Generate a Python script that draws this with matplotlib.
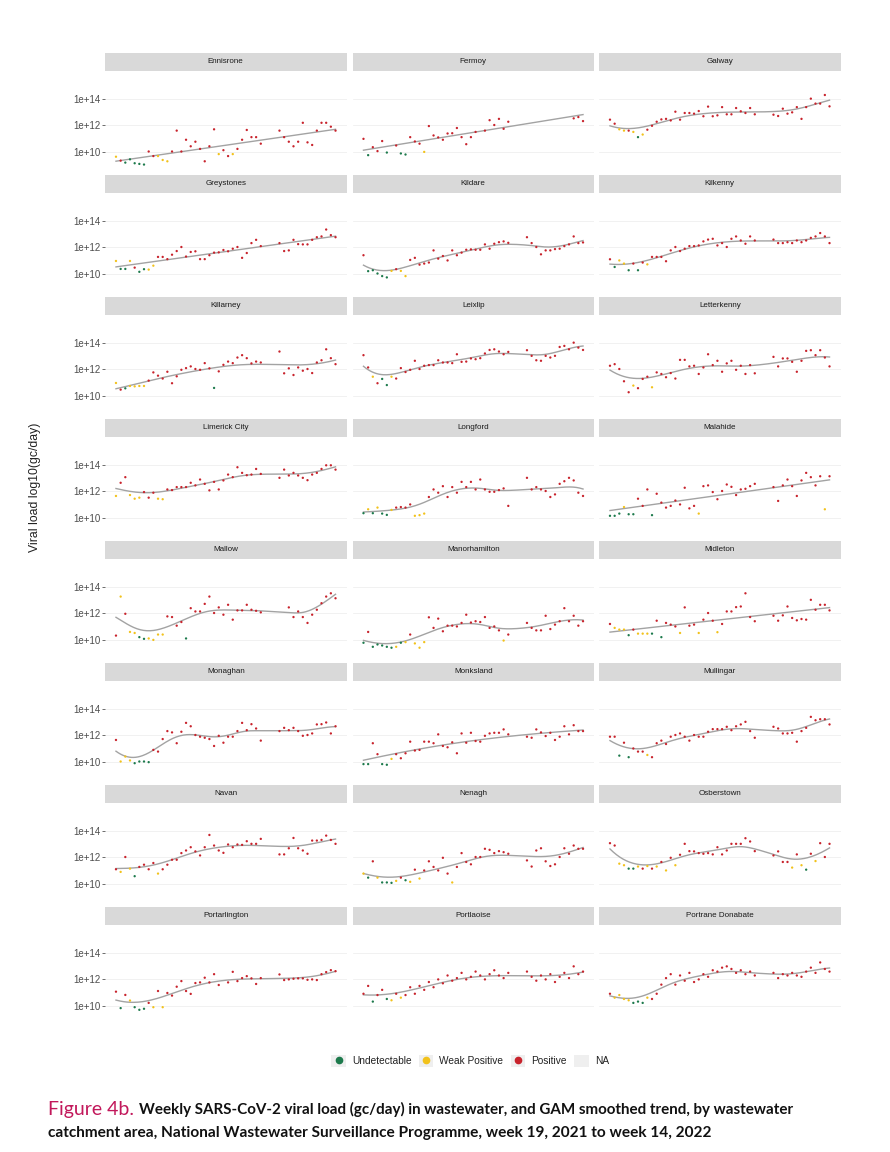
import matplotlib.pyplot as plt
from matplotlib.lines import Line2D
from matplotlib.patches import Patch
import numpy as np

N = None
weeks = list(range(48))  # week 19 2021 .. week 14 2022

sites = ["Ennisrone", "Fermoy", "Galway", "Greystones", "Kildare", "Kilkenny",
         "Killarney", "Leixlip", "Letterkenny", "Limerick City", "Longford", "Malahide",
         "Mallow", "Manorhamilton", "Midleton", "Monaghan", "Monksland", "Mullingar",
         "Navan", "Nenagh", "Osberstown", "Portarlington", "Portlaoise", "Portrane Donabate"]

# log10 viral load per week (None = no sample) and result class per week
# U = undetectable, W = weak positive, P = positive, - = no sample
ennisrone = [9.6, 9.3, 9.15, 9.4, 9.1, 9.05, 9.0, 10.0, 9.65, 9.65, 9.35, 9.25, 10.0, 11.6, 10.0, 10.9,
             10.4, 10.75, 10.2, 9.25, 10.4, 11.7, 9.8, 10.1, 9.65, 9.8, 10.2, 10.9, 11.65, 11.1, 11.1, 10.6,
             N, N, N, 11.6, 11.1, 10.75, 10.4, 10.75, 12.2, 10.7, 10.5, 11.6, 12.2, 12.2, 11.9, 11.6]
ennisrone_cls = "WPUUUUUPPWWW" + "P" * 10 + "WPPW" + "P" * 6 + "---" + "P" * 13

fermoy = [10.97, 9.72, 10.33, 10.03, 10.8, 9.92, N, 10.46, 9.85, 9.77, 11.1, 10.77, 10.6, 9.97, 11.95, 11.23,
          11.08, 10.9, 11.38, 11.4, 11.8, 11.1, 10.56, 11.1, 11.5, N, 11.6, 12.4, 12.03, 12.5, 11.74, 12.28,
          N, N, N, N, N, N, N, N, N, N, N, N, N, 12.54, 12.64, 12.33]
fermoy_cls = "PUPPPU-PUUPPPW" + "P" * 11 + "-" + "P" * 6 + "-" * 13 + "PPP"

galway = [12.44, 12.13, 11.7, 11.6, 11.6, 11.5, 11.1, 11.3, 11.67, 11.97, 12.28, 12.46, 12.5, 12.38, 13.05, 12.44,
          12.95, 12.95, 12.9, 13.1, 12.7, 13.44, 12.7, 12.77, 13.4, 12.85, 12.85, 13.33, 13.08, 12.95, 13.33, 12.85,
          N, N, N, 12.82, 12.72, 13.28, 12.9, 13.0, 13.4, 12.5, 13.4, 14.05, 13.67, 13.67, 14.33, 13.46]
galway_cls = "PPWWPWUW" + "P" * 24 + "---" + "P" * 13

greystones = [10.96, 10.35, 10.35, 10.96, 10.45, 10.13, 10.33, 10.3, 10.6, 11.27, 11.27, 11.1, 11.44, 11.72, 12.03, 11.3,
              11.65, 11.7, 11.1, 11.1, 11.4, 11.6, 11.62, 11.8, 11.7, 11.9, 12.03, 11.2, 11.57, 12.33, 12.58, 12.1,
              N, N, N, 12.33, 11.72, 11.77, 12.58, 12.25, 12.23, 12.23, 12.58, 12.78, 12.84, 13.37, 12.94, 12.78]
greystones_cls = "WUUWPUUWW" + "P" * 23 + "---" + "P" * 13

kildare = [11.4, 10.18, 10.25, 10.0, 9.8, 9.7, 10.2, 10.33, 10.2, 9.8, 11.04, 11.2, 10.68, 10.76, 10.84, 11.77,
           11.14, 11.34, 11.0, 11.77, 11.4, 11.6, 11.82, 11.85, 11.82, 11.82, 12.23, 11.9, 12.28, 12.4, 12.46, 12.35,
           N, N, N, 12.78, 12.33, 12.03, 11.47, 11.77, 11.77, 11.87, 11.9, 12.1, 12.23, 12.84, 12.33, 12.38]
kildare_cls = "PUUUUUWPWW" + "P" * 22 + "---" + "P" * 13

kilkenny = [11.09, 10.5, 11.0, 10.76, 10.25, 10.76, 10.25, 10.84, 10.7, 11.27, 11.27, 11.27, 10.94, 11.77, 12.03, 11.72,
            11.9, 12.1, 12.1, 12.15, 12.46, 12.6, 12.66, 12.15, 12.33, 12.03, 12.66, 12.84, 12.53, 12.28, 12.84, 12.53,
            N, N, N, 12.6, 12.33, 12.33, 12.4, 12.33, 12.53, 12.4, 12.53, 12.73, 12.84, 13.1, 12.84, 12.33]
kilkenny_cls = "PUWWUPUPW" + "P" * 23 + "---" + "P" * 13

killarney = [10.96, 10.45, 10.55, 10.73, 10.7, 10.73, 10.73, 11.14, 11.77, 11.52, 11.3, 11.82, 10.94, 11.47, 11.97, 12.1,
             12.23, 12.03, 11.97, 12.48, 12.08, 10.58, 11.85, 12.35, 12.6, 12.48, 12.91, 13.09, 12.86, 12.46, 12.6, 12.53,
             N, N, N, 13.37, 11.7, 12.08, 11.57, 12.15, 11.9, 12.03, 11.72, 12.53, 12.7, 13.54, 12.86, 12.4]
killarney_cls = "WPUWWWW" + "P" * 14 + "U" + "P" * 10 + "---" + "P" * 13

leixlip = [13.09, 12.15, 11.44, 10.94, 11.27, 10.8, 11.44, 11.3, 12.1, 11.8, 11.97, 12.66, 12.03, 12.28, 12.33, 12.33,
           12.7, 12.53, 12.53, 12.48, 13.16, 12.58, 12.6, 12.84, 12.78, 12.86, 13.22, 13.49, 13.54, 13.37, 13.16, 13.34,
           N, N, N, 13.47, 13.04, 12.7, 12.66, 13.04, 12.91, 13.04, 13.72, 13.8, 13.54, 14.05, 13.67, 13.49]
leixlip_cls = "PPWPUUW" + "P" * 25 + "---" + "P" * 13

letterkenny = [12.28, 12.4, 12.03, 11.09, 10.25, 10.76, 10.56, 11.27, 11.44, 10.63, 11.77, 11.65, 11.4, 11.72, 11.3, 12.73,
               12.73, 12.23, 12.28, 11.65, 12.15, 13.16, 12.33, 12.66, 11.82, 12.46, 12.66, 11.97, 12.28, 11.65, 12.33, 11.7,
               N, N, N, 12.96, 12.23, 12.84, 12.84, 12.58, 11.82, 12.66, 13.42, 13.47, 13.09, 13.47, 12.91, 12.23]
letterkenny_cls = "PPPPPWPPPW" + "P" * 22 + "---" + "P" * 13

limerick = [11.65, 12.66, 13.09, 11.72, 11.44, 11.52, 11.95, 11.52, 11.9, 11.44, 11.4, 12.15, 12.1, 12.33, 12.33, 12.33,
            12.66, 12.46, 12.91, 12.58, 12.08, 12.73, 12.15, 12.84, 13.29, 13.09, 13.85, 13.42, 13.24, 13.29, 13.72, 13.34,
            N, N, N, 13.04, 13.67, 13.22, 13.42, 13.22, 13.04, 12.86, 13.29, 13.42, 13.72, 14.0, 14.0, 13.67]
limerick_cls = "WPPWWWPPPWW" + "P" * 21 + "---" + "P" * 13

longford = [10.33, 10.63, 10.33, 10.76, 10.3, 10.2, 10.58, 10.76, 10.8, 10.76, 11.0, 10.13, 10.18, 10.3, 11.57, 12.15,
            11.9, 12.4, 11.57, 12.33, 11.9, 12.73, 12.33, 12.73, 12.15, 12.91, 12.15, 11.97, 11.97, 12.1, 12.23, 10.89,
            N, N, N, 13.04, 12.15, 12.33, 12.15, 12.03, 11.57, 11.77, 12.58, 12.78, 13.04, 12.84, 11.9, 11.65]
longford_cls = "UWUWUUWPPPPWWW" + "P" * 18 + "---" + "P" * 13

malahide = [10.13, 10.13, 10.3, 10.8, 10.25, 10.25, 11.44, 10.89, 12.15, 10.18, 11.82, 11.14, 10.76, 10.89, 11.3, 11.0,
            12.28, 10.7, 10.89, 10.3, 12.4, 12.46, 11.95, 11.4, 12.03, 12.53, 12.35, 11.72, 12.15, 12.2, 12.4, 12.58,
            N, N, N, 12.33, 11.27, 12.46, 12.91, 12.4, 11.65, 12.84, 13.42, 13.09, 12.46, 13.16, 10.63, 13.16]
malahide_cls = "UUUWUUPPPU" + "P" * 9 + "W" + "P" * 12 + "---" + "P" * 11 + "WP"

mallow = [10.3, 13.29, 11.97, 10.58, 10.5, 10.18, 10.05, 10.08, 9.97, 10.38, 10.38, 11.77, 11.72, 11.06, 11.34, 10.08,
          12.4, 12.15, 12.15, 12.73, 13.29, 12.03, 12.46, 11.9, 12.66, 11.52, 12.23, 12.23, 12.66, 12.28, 12.2, 12.08,
          N, N, N, N, N, 12.46, 11.72, 12.15, 11.72, 11.27, 11.9, 12.28, 12.78, 13.29, 13.54, 13.16]
mallow_cls = "PWPWWUUWWWW" + "PPPP" + "U" + "P" * 16 + "-----" + "P" * 11

manorhamilton = [9.75, 10.58, 9.44, 9.62, 9.54, 9.44, 9.37, 9.44, 9.75, 9.8, 10.38, 9.7, 9.37, 9.8, 11.7, 10.89,
                 11.6, 10.63, 11.06, 11.06, 11.0, 11.27, 11.9, 11.3, 11.4, 11.34, 11.72, 10.89, 11.0, 10.7, 9.92, 10.38,
                 N, N, N, 11.27, 10.89, 10.7, 10.7, 11.82, 10.8, 11.14, 11.4, 12.4, 11.4, 11.82, 11.06, 11.4]
manorhamilton_cls = "UPUUUUUWUWPWWW" + "P" * 16 + "WP" + "---" + "P" * 13

midleton = [11.19, 10.89, 10.76, 10.76, 10.33, 10.76, 10.45, 10.45, 10.45, 10.45, 11.44, 10.18, 11.27, 11.14, 11.0, 10.5,
            12.46, 11.06, 11.14, 10.5, 11.52, 12.03, 11.44, 10.56, 11.19, 12.15, 12.15, 12.48, 12.53, 13.54, 11.72, 11.4,
            N, N, N, 11.82, 11.44, 11.85, 12.53, 11.65, 11.47, 11.57, 11.52, 13.04, 12.28, 12.66, 12.66, 12.23]
midleton_cls = "PWWWUPWWWUPUPPPWPPPWPPPW" + "P" * 8 + "---" + "P" * 13

monaghan = [11.65, 10.0, 10.38, 10.08, 9.87, 10.0, 10.0, 9.95, 10.89, 10.76, 11.72, 12.33, 12.23, 11.4, 12.28, 12.96,
            12.7, 12.03, 11.9, 11.82, 11.72, 11.19, 11.97, 11.44, 11.9, 11.9, 12.33, 12.96, 12.4, 12.86, 12.53, 11.6,
            N, N, N, 12.33, 12.58, 12.4, 12.58, 12.33, 11.97, 12.03, 12.15, 12.84, 12.86, 12.99, 12.15, 12.7]
monaghan_cls = "PWWWUUUU" + "P" * 24 + "---" + "P" * 13

monksland = [9.8, 9.8, 11.4, 10.56, 9.8, 9.75, 10.2, 10.56, 10.25, 10.63, 11.52, 10.84, 10.89, 11.52, 11.52, 11.4,
             12.08, 11.19, 11.09, 11.47, 10.63, 12.15, 11.44, 12.2, 11.57, 11.52, 11.97, 12.15, 12.2, 12.2, 12.46, 12.08,
             N, N, N, 11.9, 11.82, 12.46, 12.23, 11.95, 12.2, 11.65, 11.9, 12.7, 12.08, 12.78, 12.33, 12.33]
monksland_cls = "UUPPUUW" + "P" * 25 + "---" + "P" * 13

mullingar = [11.9, 11.9, 10.45, 11.44, 10.33, 11.0, 10.76, 10.76, 10.5, 10.33, 11.4, 11.6, 11.34, 11.9, 12.03, 12.15,
             11.9, 11.6, 12.03, 11.9, 11.9, 12.28, 12.48, 12.48, 12.48, 12.66, 12.4, 12.7, 12.84, 13.04, 12.33, 11.82,
             N, N, N, 12.66, 12.53, 12.15, 12.15, 12.2, 11.52, 12.33, 12.58, 13.42, 13.16, 13.24, 13.24, 12.84]
mullingar_cls = "PPUPUPPPW" + "P" * 23 + "---" + "P" * 13

navan = [11.09, 10.89, 12.03, 11.14, 10.56, 11.27, 11.44, 11.09, 11.57, 10.76, 11.09, 11.44, 11.82, 11.82, 12.33, 12.53,
         12.78, 12.46, 12.15, 12.78, 13.72, 12.91, 12.53, 12.35, 12.99, 12.78, 12.99, 12.96, 13.24, 13.04, 13.04, 13.42,
         N, N, N, 12.23, 12.23, 12.7, 13.49, 12.7, 12.53, 12.28, 13.29, 13.29, 13.34, 13.67, 13.34, 13.04]
navan_cls = "PWPWUPPPPW" + "P" * 22 + "---" + "P" * 13

nenagh = [10.76, 10.45, 11.7, 10.45, 10.08, 10.08, 10.05, 10.2, 10.45, 10.25, 10.13, 11.06, 10.38, 11.0, 11.7, 11.27,
          11.0, 11.97, 10.76, 10.08, 11.27, 12.33, 11.65, 11.47, 12.03, 12.03, 12.66, 12.58, 12.33, 12.48, 12.4, 12.28,
          N, N, N, 11.77, 11.3, 12.53, 12.7, 11.7, 11.34, 11.47, 12.03, 12.7, 12.28, 12.91, 12.66, 12.66]
nenagh_cls = "WUPWUUUWPUWPWPPPPPPW" + "P" * 12 + "---" + "P" * 13

osberstown = [13.09, 12.91, 11.52, 11.4, 11.14, 11.14, 11.3, 11.14, 11.34, 11.14, 11.3, 11.65, 11.0, 11.97, 11.4, 12.2,
              13.04, 12.48, 12.46, 12.33, 12.28, 12.33, 12.23, 12.78, 12.23, 12.53, 13.04, 13.04, 13.04, 13.47, 13.22, 12.48,
              N, N, N, 12.15, 12.46, 11.65, 11.65, 11.22, 12.23, 11.4, 11.06, 12.28, 11.72, 13.09, 12.03, 13.04]
osberstown_cls = "PPWWUUWPWPWPWPW" + "P" * 17 + "---" + "PPPPWPWUPWPPP"

portarlington = [11.06, 9.8, 10.81, 10.38, 9.87, 9.67, 9.75, 10.2, 9.87, 11.11, 9.87, 10.96, 10.76, 11.44, 11.87, 11.11,
                 10.89, 11.72, 11.77, 12.13, 11.77, 12.4, 11.57, N, 11.77, 12.58, 11.87, 12.1, 12.25, 12.08, 11.65, 12.1,
                 N, N, N, 12.38, 11.95, 12.0, 12.05, 12.08, 12.08, 11.97, 12.0, 11.95, 12.4, 12.56, 12.71, 12.63]
portarlington_cls = "PUPWUUUPWPW" + "P" * 12 + "-" + "P" * 8 + "---" + "P" * 13

portlaoise = [10.9, 11.5, 10.3, 10.8, 11.2, 10.5, 10.4, 10.9, 10.6, 10.8, 11.4, 10.9, 11.5, 11.2, 11.8, 11.4,
              12.0, 11.7, 12.3, 11.9, 12.1, 12.5, 12.0, 12.2, 12.6, 12.3, 12.0, 12.4, 12.7, 12.3, 12.1, 12.5,
              N, N, N, 12.6, 12.2, 11.9, 12.3, 12.0, 12.4, 11.8, 12.2, 12.5, 12.1, 13.0, 12.4, 12.6]
portlaoise_cls = "PPUPPUWPW" + "P" * 23 + "---" + "P" * 13

portrane = [10.9, 10.6, 10.8, 10.5, 10.4, 10.2, 10.3, 10.2, 10.6, 10.5, 10.9, 11.6, 12.1, 12.4, 11.6, 12.3,
            11.9, 12.5, 11.8, 12.0, 12.4, 12.2, 12.7, 12.6, 12.9, 13.0, 12.8, 12.5, 12.7, 12.4, 12.6, 12.3,
            N, N, N, 12.5, 12.1, 12.4, 12.3, 12.5, 12.3, 12.2, 12.6, 12.9, 12.5, 13.3, 12.8, 12.6]
portrane_cls = "PWWWWUUUW" + "P" * 23 + "---" + "P" * 13

series = [(ennisrone, ennisrone_cls), (fermoy, fermoy_cls), (galway, galway_cls),
          (greystones, greystones_cls), (kildare, kildare_cls), (kilkenny, kilkenny_cls),
          (killarney, killarney_cls), (leixlip, leixlip_cls), (letterkenny, letterkenny_cls),
          (limerick, limerick_cls), (longford, longford_cls), (malahide, malahide_cls),
          (mallow, mallow_cls), (manorhamilton, manorhamilton_cls), (midleton, midleton_cls),
          (monaghan, monaghan_cls), (monksland, monksland_cls), (mullingar, mullingar_cls),
          (navan, navan_cls), (nenagh, nenagh_cls), (osberstown, osberstown_cls),
          (portarlington, portarlington_cls), (portlaoise, portlaoise_cls), (portrane, portrane_cls)]

# smoothing width (weeks) per site, large = straight trend
bandwidth = [200, 200, 5, 200, 4, 5, 7, 4, 5, 5, 4, 200,
             4, 4, 200, 3.5, 15, 4, 5, 5, 4, 5, 6, 4]

colors = {"U": "#1d7a4c", "W": "#f2c21b", "P": "#c8232c"}
legend_labels = ["Undetectable", "Weak Positive", "Positive", "NA"]


def smooth(x, y, bw, grid):
    # local linear fit with gaussian weights
    out = []
    for g in grid:
        w = np.exp(-0.5 * ((x - g) / bw) ** 2)
        c = np.polyfit(x, y, 1, w=np.sqrt(w))
        out.append(np.polyval(c, g))
    return np.array(out)


W, H = 890, 1152
fig = plt.figure(figsize=(W / 100, H / 100), dpi=100)
plt.rcParams['font.family'] = ['Liberation Sans', 'DejaVu Sans']

col_left = [105, 352.5, 599]
panel_w = 241.5
strip_h = 18.3
panel_h = 97
decade = 13.05
ytop = 14 + (99.3 - 71) / decade
ybot = ytop - panel_h / decade

for i, name in enumerate(sites):
    r, c = divmod(i, 3)
    strip_top = 52.7 + 122 * r
    left = col_left[c]
    top = strip_top + strip_h

    # strip
    sax = fig.add_axes([left / W, 1 - top / H, panel_w / W, strip_h / H])
    sax.set_facecolor("#d9d9d9")
    sax.set_xticks([])
    sax.set_yticks([])
    for s in sax.spines.values():
        s.set_visible(False)
    sax.text(0.5, 0.5, name, ha="center", va="center", fontsize=5.8, color="#1a1a1a")

    ax = fig.add_axes([left / W, 1 - (top + panel_h) / H, panel_w / W, panel_h / H])
    vals, cls = series[i]
    x = np.array([w for w, v in zip(weeks, vals) if v is not None], dtype=float)
    y = np.array([v for v in vals if v is not None], dtype=float)
    k = [ch for ch, v in zip(cls, vals) if v is not None]

    grid = np.linspace(0, 47, 200)
    ax.plot(grid, smooth(x, y, bandwidth[i], grid), color="#a3a3a3", lw=1.0, zorder=2)
    ax.scatter(x, y, s=2.8, c=[colors[ch] for ch in k], linewidths=0, zorder=3)

    ax.set_xlim(-2.35, 49.35)
    ax.set_ylim(ybot, ytop)
    ax.set_xticks([])
    ax.set_yticks([10, 12, 14])
    ax.grid(axis="y", color="#ebebeb", lw=0.5)
    ax.set_axisbelow(True)
    for s in ax.spines.values():
        s.set_visible(False)
    if c == 0:
        ax.set_yticklabels(["1e+10", "1e+12", "1e+14"])
        ax.tick_params(axis="y", length=2, width=0.5, color="#333333",
                       labelsize=7, labelcolor="#4d4d4d", pad=1)
    else:
        ax.tick_params(axis="y", length=0, labelleft=False)

fig.text(35 / W, 1 - 487 / H, "Viral load log10(gc/day)", rotation=90,
         ha="center", va="center", fontsize=8.8, color="#222222")

# legend
handles = []
for key in ["U", "W", "P"]:
    handles.append((Patch(facecolor="#efefef", edgecolor="none"),
                    Line2D([], [], ls="", marker="o", markersize=4.5, color=colors[key])))
handles.append(Patch(facecolor="#efefef", edgecolor="none"))
fig.legend(handles, legend_labels, loc="center", bbox_to_anchor=(470 / W, 1 - 1061 / H),
           ncol=4, frameon=False, fontsize=7.3, handlelength=1.45, handleheight=1.45,
           handletextpad=0.6, columnspacing=0.7, labelcolor="#222222")

# caption
fig.canvas.draw()
renderer = fig.canvas.get_renderer()
t1 = fig.text(48 / W, 1 - 1109 / H, "Figure 4b.", fontsize=14, color="#c2185b",
              family="Lato", va="center")
bb = t1.get_window_extent(renderer)
fig.text((bb.x1 + 5) / W, 1 - 1109 / H,
         "Weekly SARS-CoV-2 viral load (gc/day) in wastewater, and GAM smoothed trend, by wastewater",
         fontsize=10.9, fontweight="bold", family="Lato", va="center", color="#111111")
fig.text(48 / W, 1 - 1133 / H,
         "catchment area, National Wastewater Surveillance Programme, week 19, 2021 to week 14, 2022",
         fontsize=11.1, fontweight="bold", family="Lato", va="center", color="#111111")

fig.savefig("out.png", dpi=100)
